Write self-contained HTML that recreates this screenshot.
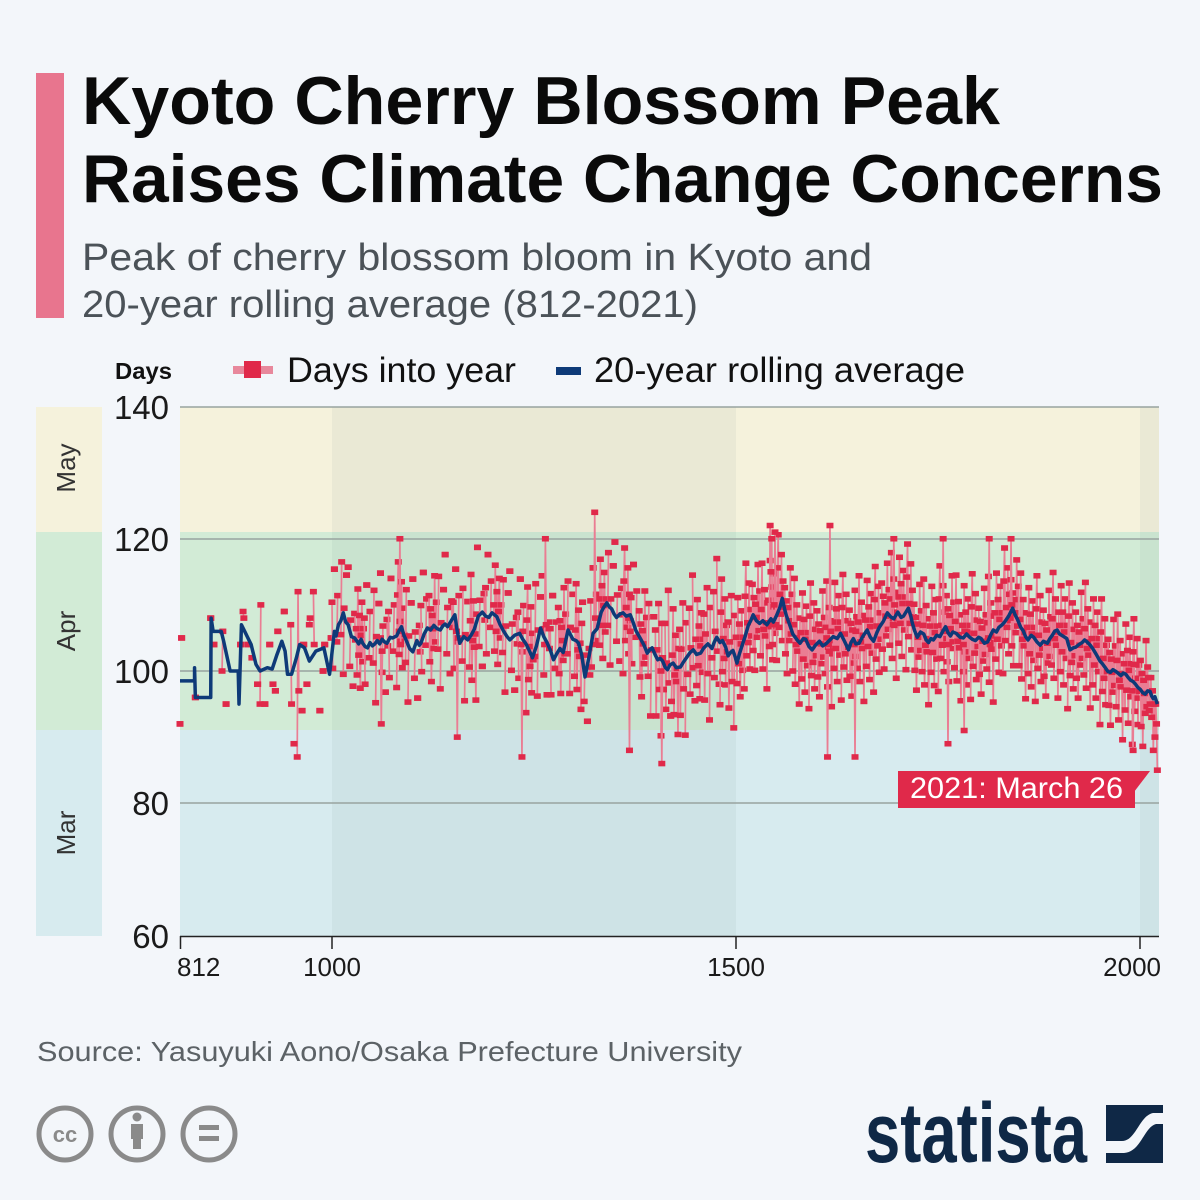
<!DOCTYPE html>
<html><head><meta charset="utf-8">
<style>
html,body{margin:0;padding:0;background:#f3f6fa;}
svg{display:block;}
text{font-family:"Liberation Sans",sans-serif;}
</style></head><body>
<svg width="1200" height="1200" viewBox="0 0 1200 1200" xmlns="http://www.w3.org/2000/svg" xmlns:xlink="http://www.w3.org/1999/xlink">
<defs>
<marker id="m" markerUnits="userSpaceOnUse" markerWidth="9" markerHeight="1" refX="0" refY="0" overflow="visible" orient="0">
<rect x="-4.33" y="-0.42" width="8.66" height="0.84" fill="#e0294a"/>
</marker>
<path id="D1" d="M0 2 1 -5 2 8 3 -2 4 4 5 -7 6 1 7 6 8 -3 9 2" fill="none" stroke="#ea7d93" stroke-width="1.7" vector-effect="non-scaling-stroke" marker-start="url(#m)" marker-mid="url(#m)" marker-end="url(#m)"/>
<path id="D2" d="M0 -9 1 5 2 10 3 -4 4 1 5 -2 6 7 7 -6 8 3 9 -1" fill="none" stroke="#ea7d93" stroke-width="1.7" vector-effect="non-scaling-stroke" marker-start="url(#m)" marker-mid="url(#m)" marker-end="url(#m)"/>
<path id="D3" d="M0 5 1 -5 2 3 3 -8 4 2 5 0 6 -3 7 8 8 -2 9 4" fill="none" stroke="#ea7d93" stroke-width="1.7" vector-effect="non-scaling-stroke" marker-start="url(#m)" marker-mid="url(#m)" marker-end="url(#m)"/>
<path id="D4" d="M0 -5 1 2 2 9 3 -7 4 -1 5 5 6 -2 7 0 8 -10 9 3" fill="none" stroke="#ea7d93" stroke-width="1.7" vector-effect="non-scaling-stroke" marker-start="url(#m)" marker-mid="url(#m)" marker-end="url(#m)"/>
<path id="S1" d="M0 4 1 -6M3 9h0M6 -2 7 5" fill="none" stroke="#ea7d93" stroke-width="1.7" vector-effect="non-scaling-stroke" marker-start="url(#m)" marker-mid="url(#m)" marker-end="url(#m)"/>
<path id="S2" d="M1 -3 2 8M4 -9 5 1M8 6h0" fill="none" stroke="#ea7d93" stroke-width="1.7" vector-effect="non-scaling-stroke" marker-start="url(#m)" marker-mid="url(#m)" marker-end="url(#m)"/>
<path id="S3" d="M0 10h0M2 -5 3 2M6 -8h0M8 3 9 -1" fill="none" stroke="#ea7d93" stroke-width="1.7" vector-effect="non-scaling-stroke" marker-start="url(#m)" marker-mid="url(#m)" marker-end="url(#m)"/>
<path id="M1" d="M0 5 1 -8 2 2M4 9 5 -4M7 -11 8 6" fill="none" stroke="#ea7d93" stroke-width="1.7" vector-effect="non-scaling-stroke" marker-start="url(#m)" marker-mid="url(#m)" marker-end="url(#m)"/>
<path id="M2" d="M0 -3h0M2 7 3 -6 4 1M6 12 7 -2M9 -7h0" fill="none" stroke="#ea7d93" stroke-width="1.7" vector-effect="non-scaling-stroke" marker-start="url(#m)" marker-mid="url(#m)" marker-end="url(#m)"/>
</defs>
<rect width="1200" height="1200" fill="#f3f6fa"/>
<rect x="36" y="73" width="28" height="245" fill="#e8758e"/>
<text x="82" y="124" font-size="68" font-weight="bold" fill="#0a0a0a" textLength="918" lengthAdjust="spacingAndGlyphs">Kyoto Cherry Blossom Peak</text>
<text x="82" y="202" font-size="68" font-weight="bold" fill="#0a0a0a" textLength="1081" lengthAdjust="spacingAndGlyphs">Raises Climate Change Concerns</text>
<text x="82" y="270" font-size="38" fill="#4b5258" textLength="790" lengthAdjust="spacingAndGlyphs">Peak of cherry blossom bloom in Kyoto and</text>
<text x="82" y="317" font-size="38" fill="#4b5258" textLength="616" lengthAdjust="spacingAndGlyphs">20-year rolling average (812-2021)</text>

<!-- legend -->
<text x="115" y="379" font-size="23" font-weight="bold" fill="#111" textLength="57" lengthAdjust="spacingAndGlyphs">Days</text>
<rect x="233" y="366" width="40" height="8" fill="#e8889c"/>
<rect x="244" y="361" width="17" height="17" fill="#e0294a"/>
<text x="287" y="382" font-size="35" fill="#111" textLength="229" lengthAdjust="spacingAndGlyphs">Days into year</text>
<rect x="556" y="367" width="25" height="8" fill="#0e3a78"/>
<text x="594" y="382" font-size="35" fill="#111" textLength="371" lengthAdjust="spacingAndGlyphs">20-year rolling average</text>

<!-- left month column -->
<rect x="36" y="407" width="66" height="125" fill="#f5f2dc"/>
<rect x="36" y="532" width="66" height="198" fill="#d2ebd6"/>
<rect x="36" y="730" width="66" height="206" fill="#d7ebef"/>
<text x="75" y="468" font-size="26" fill="#333" text-anchor="middle" transform="rotate(-90 75 468)">May</text>
<text x="75" y="631" font-size="26" fill="#333" text-anchor="middle" transform="rotate(-90 75 631)">Apr</text>
<text x="75" y="833" font-size="26" fill="#333" text-anchor="middle" transform="rotate(-90 75 833)">Mar</text>

<!-- plot bands -->
<rect x="180" y="407" width="979" height="125" fill="#f5f2dc"/>
<rect x="180" y="532" width="979" height="198" fill="#d2ebd6"/>
<rect x="180" y="730" width="979" height="206" fill="#d7ebef"/>
<rect x="332" y="407" width="404" height="529" fill="#3c6464" opacity="0.06"/>
<rect x="1140" y="407" width="19" height="529" fill="#3c6464" opacity="0.06"/>

<!-- gridlines -->
<g stroke="#98a39f" stroke-width="1.5">
<line x1="180" y1="407" x2="1159" y2="407"/>
<line x1="180" y1="539" x2="1159" y2="539"/>
<line x1="180" y1="671" x2="1159" y2="671"/>
<line x1="180" y1="803" x2="1159" y2="803"/>
</g>
<line x1="180" y1="936.5" x2="1159" y2="936.5" stroke="#222" stroke-width="1.5"/>
<g stroke="#222" stroke-width="1.5">
<line x1="180.5" y1="936" x2="180.5" y2="949"/>
<line x1="332" y1="936" x2="332" y2="949"/>
<line x1="736" y1="936" x2="736" y2="949"/>
<line x1="1140" y1="936" x2="1140" y2="949"/>
</g>
<g font-size="33" fill="#1a1a1a" text-anchor="end">
<text x="169" y="419">140</text>
<text x="169" y="551">120</text>
<text x="169" y="683">100</text>
<text x="169" y="815">80</text>
<text x="169" y="948">60</text>
</g>
<g font-size="26" fill="#1a1a1a">
<text x="177" y="976">812</text>
<text x="332" y="976" text-anchor="middle">1000</text>
<text x="736" y="976" text-anchor="middle">1500</text>
<text x="1161" y="976" text-anchor="end">2000</text>
</g>

<!-- data -->
<g transform="translate(180 671) scale(0.8084 -6.6125) translate(-812 -100)">
<path d="M812 92h0M814 105h0M831 96h0M850 108h0M854 104h0M864 100 865 106M869 95h0M887 104h0M890 109 891 108M896 104h0M901 102h0M908 98h0M911 95 912 110M917 95h0M923 104h0M927 98h0M930 97h0M933 106h0M941 109h0M949 107 950 95M953 89h0M957 87 958 112 959 97M963 94h0M965 104h0M969 98h0M972 107 973 108M977 112 978 104M985 94h0M989 100h0M991 104h0M999 105h0" fill="none" stroke="#ea7d93" stroke-width="1.7" vector-effect="non-scaling-stroke" marker-start="url(#m)" marker-mid="url(#m)" marker-end="url(#m)"/>
<use xlink:href="#S1" x="1000" y="106.4"/>
<use xlink:href="#S2" x="1010" y="108.5"/>
<use xlink:href="#S3" x="1020" y="105.7"/>
<use xlink:href="#D1" x="1030" y="104.4"/>
<use xlink:href="#S1" x="1040" y="104"/>
<use xlink:href="#S2" x="1050" y="104.2"/>
<use xlink:href="#S3" x="1060" y="104.8"/>
<use xlink:href="#S1" x="1070" y="105"/>
<use xlink:href="#D2" x="1080" y="106.5"/>
<use xlink:href="#S2" x="1090" y="104.3"/>
<use xlink:href="#S3" x="1100" y="103.9"/>
<use xlink:href="#S1" x="1110" y="105.9"/>
<use xlink:href="#D3" x="1120" y="106.4"/>
<use xlink:href="#S2" x="1130" y="106.3"/>
<use xlink:href="#S3" x="1140" y="107.6"/>
<use xlink:href="#S1" x="1150" y="106.4"/>
<use xlink:href="#S2" x="1160" y="104.5"/>
<use xlink:href="#D4" x="1170" y="105.6"/>
<use xlink:href="#S3" x="1180" y="108.7"/>
<use xlink:href="#S1" x="1190" y="108.6"/>
<use xlink:href="#D1" x="1200" y="108"/>
<use xlink:href="#S2" x="1210" y="105.8"/>
<use xlink:href="#S3" x="1220" y="105.1"/>
<use xlink:href="#S1" x="1230" y="104.9"/>
<use xlink:href="#D2" x="1240" y="102.7"/>
<use xlink:href="#S2" x="1250" y="105.2"/>
<use xlink:href="#S3" x="1260" y="104.4"/>
<use xlink:href="#S1" x="1270" y="102.4"/>
<use xlink:href="#D3" x="1280" y="104.6"/>
<use xlink:href="#S2" x="1290" y="105.6"/>
<use xlink:href="#D4" x="1300" y="104.2"/>
<use xlink:href="#S3" x="1310" y="100.4"/>
<use xlink:href="#S1" x="1320" y="106.6"/>
<use xlink:href="#D1" x="1330" y="108.9"/>
<use xlink:href="#S2" x="1340" y="109.9"/>
<use xlink:href="#S3" x="1350" y="109.5"/>
<use xlink:href="#D2" x="1360" y="108.6"/>
<use xlink:href="#S1" x="1370" y="107.1"/>
<use xlink:href="#D3" x="1380" y="104.1"/>
<use xlink:href="#S2" x="1390" y="102.2"/>
<use xlink:href="#M1" x="1400" y="101.2"/>
<use xlink:href="#M2" x="1410" y="100.2"/>
<use xlink:href="#D4" x="1420" y="100.4"/>
<use xlink:href="#M1" x="1430" y="101.3"/>
<use xlink:href="#M2" x="1440" y="102.5"/>
<use xlink:href="#D1" x="1450" y="102.8"/>
<use xlink:href="#M1" x="1460" y="103.6"/>
<use xlink:href="#M2" x="1470" y="105"/>
<use xlink:href="#D2" x="1480" y="103.9"/>
<use xlink:href="#M1" x="1490" y="102.4"/>
<use xlink:href="#D1" x="1500" y="103.1"/>
<use xlink:href="#D2" x="1510" y="106.3"/>
<use xlink:href="#D3" x="1520" y="108.1"/>
<use xlink:href="#D4" x="1530" y="107.3"/>
<use xlink:href="#D1" x="1540" y="108.7"/>
<use xlink:href="#D2" x="1550" y="110.6"/>
<use xlink:href="#D3" x="1560" y="107.6"/>
<use xlink:href="#D4" x="1570" y="105"/>
<use xlink:href="#D1" x="1580" y="103.8"/>
<use xlink:href="#D2" x="1590" y="103.3"/>
<use xlink:href="#D3" x="1600" y="104.1"/>
<use xlink:href="#D4" x="1610" y="104.6"/>
<use xlink:href="#D1" x="1620" y="105.4"/>
<use xlink:href="#D2" x="1630" y="104.6"/>
<use xlink:href="#D3" x="1640" y="104.2"/>
<use xlink:href="#D4" x="1650" y="105.4"/>
<use xlink:href="#D1" x="1660" y="105.7"/>
<use xlink:href="#D2" x="1670" y="105.8"/>
<use xlink:href="#D3" x="1680" y="108.3"/>
<use xlink:href="#D4" x="1690" y="108.9"/>
<use xlink:href="#D1" x="1700" y="109.2"/>
<use xlink:href="#D2" x="1710" y="109.2"/>
<use xlink:href="#D3" x="1720" y="105.1"/>
<use xlink:href="#D4" x="1730" y="104.9"/>
<use xlink:href="#D1" x="1740" y="104.8"/>
<use xlink:href="#D2" x="1750" y="105.9"/>
<use xlink:href="#D3" x="1760" y="106.4"/>
<use xlink:href="#D4" x="1770" y="105.5"/>
<use xlink:href="#D1" x="1780" y="104.9"/>
<use xlink:href="#D2" x="1790" y="104.7"/>
<use xlink:href="#D3" x="1800" y="104.5"/>
<use xlink:href="#D4" x="1810" y="105.3"/>
<use xlink:href="#D1" x="1820" y="106.8"/>
<use xlink:href="#D2" x="1830" y="108.6"/>
<use xlink:href="#D3" x="1840" y="108.8"/>
<use xlink:href="#D4" x="1850" y="105.8"/>
<use xlink:href="#D1" x="1860" y="104.6"/>
<use xlink:href="#D2" x="1870" y="104.4"/>
<use xlink:href="#D3" x="1880" y="104.2"/>
<use xlink:href="#D4" x="1890" y="105.9"/>
<use xlink:href="#D1" x="1900" y="104.9"/>
<use xlink:href="#D2" x="1910" y="103.3"/>
<use xlink:href="#D3" x="1920" y="103.9"/>
<use xlink:href="#D4" x="1930" y="104.4"/>
<use xlink:href="#D1" x="1940" y="102.9"/>
<use xlink:href="#D2" x="1950" y="100.9"/>
<use xlink:href="#D3" x="1960" y="99.8"/>
<use xlink:href="#D4" x="1970" y="99.6"/>
<use xlink:href="#D1" x="1980" y="99.1"/>
<use xlink:href="#D2" x="1990" y="97.9"/>
<use xlink:href="#D3" x="2000" y="96.6"/>
<path d="M1060 105 1061 92 1062 103M1083 106 1084 120 1085 104M1154 106 1155 90 1156 105M1234 104 1235 87 1236 106M1263 104 1264 120 1265 107M1324 104 1325 124 1326 108M1367 108 1368 88 1369 106M1407 100 1408 86 1409 102M1541 107 1542 122 1543 115 1544 120 1545 104M1547 110 1548 121 1549 107M1612 105 1613 87 1614 104M1615 103 1616 122 1617 106M1646 104 1647 87 1648 106M1694 107 1695 120 1696 110M1755 104 1756 120 1757 106M1761 106 1762 89 1763 104M1781 104 1782 91 1783 106M1812 105 1813 120 1814 104M1839 108 1840 120 1841 110M1990 97 1991 88 1992 101M2010 99 2011 94 2012 95 2013 99 2014 93 2015 97 2016 88 2017 95 2018 90 2019 95 2020 92 2021 85" fill="none" stroke="#ea7d93" stroke-width="1.7" vector-effect="non-scaling-stroke" marker-start="url(#m)" marker-mid="url(#m)" marker-end="url(#m)"/>
<polyline fill="none" stroke="#0e3a78" stroke-width="3.5" stroke-linejoin="round" vector-effect="non-scaling-stroke" points="812,98.5 830,98.5 830,100.5 831,96 850,96 850.5,108 853,106 863,106 866,104.5 874,100 884,100 885,95 888,107 892,106 900,104 906,101 911,100 920,100.5 926,100.3 932,102.5 938,104.5 942,103 945,99.5 950,99.5 956,102 960,104 966,103.5 972,101.5 980,103 990,103.5 997,99.5 1003,106 1005,105.3 1008,107 1011,107.6 1014,108.8 1017,107.4 1020,107 1024,105.2 1028,105 1031,104.5 1033,104.1 1036,104.8 1038,104.2 1041,103.7 1044,103.5 1047,104.3 1050,103.8 1053,104.1 1056,104.6 1059,104.1 1062,104.8 1065,104.4 1068,104.2 1072,105.1 1075,105 1080,105.3 1083,106.1 1086,106.7 1089,105.4 1092,104.6 1096,103.4 1100,102.9 1105,104.6 1108,103.9 1110,104.2 1114,105.6 1118,106.5 1122,106.2 1126,106.9 1130,106.4 1134,106.2 1137,106.8 1140,107.1 1143,106.7 1146,107.3 1149,107.9 1152,108.5 1155,106 1158,104.2 1163,105.2 1168,104.7 1172,105.4 1176,106.3 1181,108.3 1186,108.9 1190,108.3 1194,108.1 1198,108.8 1204,108.2 1208,107 1212,106.1 1216,105.3 1220,104.7 1226,105.4 1232,105.7 1236,104.8 1240,104.1 1244,103.1 1248,102 1253,103.8 1258,106.5 1262,105.2 1266,104.3 1270,103.2 1274,101.7 1278,102.6 1282,103.4 1286,102.8 1289,104.5 1292,106.2 1295,105.5 1298,104.8 1302,104.6 1305,104.2 1309,102.4 1313,99.1 1318,102.2 1323,105.7 1328,106.4 1333,108.9 1336,109.6 1340,110.3 1343,109.7 1346,109.4 1349,108.6 1352,108.1 1356,108.6 1360,108.8 1364,108.3 1369,108.5 1373,107.2 1376,106.1 1382,104.8 1386,103.9 1390,102.7 1393,103.2 1396,103.5 1400,102.4 1403,101.7 1406,101.9 1409,101.5 1412,100.6 1415,100.2 1418,100.9 1422,101.2 1426,100.5 1431,100.6 1435,101.4 1439,102.1 1443,102.8 1447,103.2 1451,102.5 1456,102.7 1460,103.5 1465,104.1 1470,103.4 1473,104.4 1476,105.1 1480,104.3 1483,104.6 1487,103.6 1490,102.3 1493,102.8 1496,103.1 1498,102.4 1501,101.2 1504,102.6 1508,104.1 1511,105.2 1515,106.9 1518,107.6 1521,108.5 1525,107.6 1529,107.2 1533,107.6 1538,107 1543,107.9 1546,107.4 1550,108.4 1554,109.6 1557,111 1560,109.3 1562,108.4 1567,106.7 1570,105.6 1573,105.1 1576,104.6 1579,104.2 1583,104.9 1586,104.8 1590,103.7 1594,103.2 1598,103.9 1603,104.5 1607,103.8 1611,104.1 1616,104.7 1620,105.2 1625,104.9 1629,105.7 1634,104.5 1639,103.2 1642,104.3 1645,104.9 1648,104.1 1652,104.2 1657,105.3 1662,106.2 1666,105.1 1670,104.5 1674,105.8 1677,106.6 1682,107.5 1687,108.8 1691,108.2 1695,107.9 1700,108.9 1704,108.1 1707,108.3 1710,108.9 1713,109.5 1716,108.3 1718,107.2 1721,106 1724,105.1 1728,105.9 1732,105.6 1735,104.7 1738,104.3 1741,104.9 1744,104.7 1748,105.4 1752,105.2 1756,106.1 1759,106.7 1762,105.8 1765,105.3 1768,105.9 1772,105.7 1777,105.1 1781,105 1785,105.6 1788,105.2 1792,104.8 1796,104.6 1800,105.1 1803,104.9 1807,104.2 1811,104.4 1815,105.5 1818,106.2 1822,105.9 1825,106.6 1829,107 1832,107.4 1837,108.3 1842,109.5 1845,108.5 1848,107.8 1852,106.6 1855,106.1 1858,105.2 1861,104.7 1865,105.4 1868,105.1 1872,104.4 1876,103.9 1880,104.5 1885,104.2 1888,104.9 1891,105.4 1894,106 1897,106.2 1900,105.6 1904,105.3 1909,104.9 1911,104 1913,103.2 1917,103.5 1920,103.6 1924,104 1928,104.3 1931,104.7 1934,104.4 1938,103.9 1941,103.4 1945,102.6 1950,101.5 1953,101.1 1956,100.6 1960,99.9 1963,99.8 1966,100.2 1970,99.9 1973,99.6 1976,99.3 1979,99.7 1982,99.5 1985,99 1988,98.6 1991,98.4 1994,98 1997,97.5 2000,97.2 2003,96.7 2006,96.5 2009,97 2012,96.9 2014,96.2 2016,95.8 2018,96.1 2021,95"/>
</g>

<!-- annotation -->
<rect x="898" y="771" width="237" height="37" fill="#e0294a"/>
<polygon points="1134,771 1150,771 1134,792" fill="#e0294a"/>
<text x="910" y="798" font-size="30" fill="#fff" textLength="213" lengthAdjust="spacingAndGlyphs">2021: March 26</text>

<!-- source -->
<text x="37" y="1061" font-size="28" fill="#5c6266" textLength="705" lengthAdjust="spacingAndGlyphs">Source: Yasuyuki Aono/Osaka Prefecture University</text>

<!-- cc icons -->
<g fill="none" stroke="#8a8a8a" stroke-width="5">
<circle cx="65" cy="1134" r="26"/>
<circle cx="137" cy="1134" r="26"/>
<circle cx="209" cy="1134" r="26"/>
</g>
<text x="65" y="1142" font-size="22" font-weight="bold" fill="#8a8a8a" text-anchor="middle">cc</text>
<circle cx="137" cy="1117" r="4.5" fill="#8a8a8a"/>
<rect x="131" y="1124" width="12" height="15" fill="#8a8a8a"/>
<rect x="133" y="1137" width="8" height="12" fill="#8a8a8a"/>
<rect x="199" y="1125" width="20" height="5" fill="#8a8a8a"/>
<rect x="199" y="1136" width="20" height="5" fill="#8a8a8a"/>

<!-- statista logo -->
<text x="865" y="1162" font-size="84" font-weight="bold" fill="#0f2846" textLength="222" lengthAdjust="spacingAndGlyphs">statista</text>
<rect x="1106" y="1105" width="57" height="58" fill="#0f2846"/>
<path d="M1106 1141 L1122 1141 C1136 1141 1139 1116 1153 1113 L1163 1113 L1163 1124 L1156 1124 C1144 1127 1141 1152 1124 1153 L1106 1153 Z" fill="#f3f6fa"/>
</svg>
</body></html>
